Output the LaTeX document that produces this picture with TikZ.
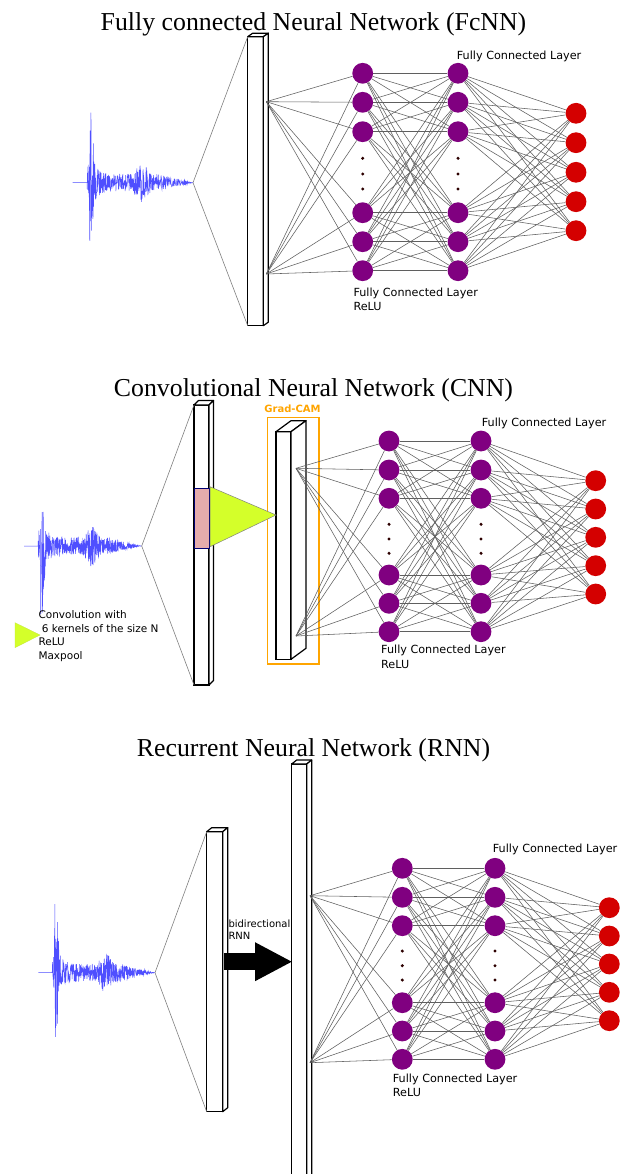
\documentclass[tikz,border=0pt]{standalone}
\usepackage{fontspec}
\setmainfont{DejaVu Sans}
\newfontfamily\titlefont{Liberation Serif}
\usetikzlibrary{arrows.meta}
\definecolor{nnpurple}{RGB}{128,0,128}
\definecolor{nnred}{RGB}{212,0,0}
\definecolor{edgegray}{RGB}{95,95,95}
\definecolor{wavblue}{RGB}{35,35,255}
\definecolor{kernelgreen}{RGB}{212,255,42}
\definecolor{poolpink}{RGB}{229,172,172}
\definecolor{camorange}{RGB}{255,165,0}
\definecolor{dotbrown}{RGB}{45,0,0}

% 3D bar: name, x1, y1, x2, y2, dx, dy
\newcommand\threeDbar[7]{%
  \pgfmathsetmacro\barw{#4-#2}%
  \pgfmathsetmacro\barh{#5-#3}%
  \node[barfront, minimum width=\barw pt, minimum height=\barh pt] (#1) at ({(#2+#4)/2},{(#3+#5)/2}) {};
  \filldraw[barline] (#1.north west) -- ++(#6,#7) -- ([shift={(#6,#7)}]#1.north east) -- (#1.north east) -- cycle;
  \filldraw[barline] (#1.north east) -- ++(#6,#7) -- ([shift={(#6,#7)}]#1.south east) -- (#1.south east) -- cycle;
}

% seismogram: x0, length, yc, seed
\newcommand\seismo[4]{%
  \pgfmathsetseed{#4}%
  \draw[wavestyle] plot[domain=0:1, samples=521] ({#1+\x*#2},{#3+env(\x)*rand});
}

% fully connected part: prefix, x1, x2, x3, hidden ys, dot ys, output ys
\newcommand\fcnet[7]{%
  \foreach \yy [count=\ii] in {#5} {
    \node[hid] (#1h1-\ii) at (#2,\yy) {};
    \node[hid] (#1h2-\ii) at (#3,\yy) {};
  }
  \foreach \yy [count=\ii] in {#6} {
    \node[dotn] (#1d1-\ii) at (#2,\yy) {};
    \node[dotn] (#1d2-\ii) at (#3,\yy) {};
  }
  \foreach \yy [count=\ii] in {#7} {
    \node[outn] (#1o-\ii) at (#4,\yy) {};
  }
  \foreach \ii in {1,...,6} {
    \foreach \jj in {1,...,6} {\draw[edge] (#1h1-\ii) -- (#1h2-\jj);}
    \foreach \jj in {1,...,5} {\draw[edge] (#1h2-\ii) -- (#1o-\jj);}
    \draw[edge] (#1p1) -- (#1h1-\ii);
    \draw[edge] (#1p2) -- (#1h1-\ii);
  }
}

\begin{document}
\begin{tikzpicture}[x=1pt,y=-1pt,
  declare function={env(\x)=(\x>0.12)*(48*exp(-min(((\x-0.15)/0.022)^2,30))
     + 18*exp(-min(max(\x-0.15,0)/0.05,30))*(\x>0.14)
     + 8.5*min(1,(1-\x)/0.3)*(\x>0.14)
     + 12*exp(-min(((\x-0.575)/0.05)^2,30)));},
  title/.style={font=\titlefont\fontsize{25.8}{30}\selectfont, anchor=base, inner sep=0},
  lbl/.style={font=\fontsize{11.2}{14.4}\selectfont, align=left, anchor=base west, inner sep=0},
  hid/.style={circle, fill=nnpurple, minimum size=20.8, inner sep=0},
  outn/.style={circle, fill=nnred, minimum size=20.8, inner sep=0},
  dotn/.style={circle, fill=dotbrown, minimum size=3.4, inner sep=0},
  edge/.style={draw=edgegray, line width=0.55},
  barfront/.style={draw=black, fill=white, line width=1.2, inner sep=0, outer sep=0},
  barline/.style={draw=black, fill=white, line width=1.2, line join=round},
  funnel/.style={draw=gray, line width=0.6},
  wavestyle/.style={draw=wavblue, line width=0.5, opacity=0.8},
  bigarrow/.style={draw=black, line width=16.7, -{Triangle[length=36.7pt,width=39pt,line width=0pt]}},
]
\useasboundingbox[fill=white] (0,0) rectangle (627,1174);

% ---------------- FcNN ----------------
\node[title] (t1) at (313.5,30.7) {Fully connected Neural Network (FcNN)};
\threeDbar{abar}{247.7}{36.7}{263.3}{325.7}{5}{-3.5}
\seismo{72.7}{120.3}{182.7}{11}
\coordinate (aw) at (193,182.7);
\draw[funnel] (abar.north west) -- (aw) -- (abar.south west);
\coordinate (ap1) at (266.3,101.7);
\coordinate (ap2) at (266.3,274);
\fcnet{a}{362.7}{458}{576}{73.3,102.3,131.7,212.7,241.7,270.7}{158.3,174,189}{113.3,142.7,172.3,201.7,230.7}
\node[lbl] (al1) at (456.7,59.3) {Fully Connected Layer};
\node[lbl] (al2) at (353.3,310.7) {Fully Connected Layer\\ReLU};

% ---------------- CNN ----------------
\node[title] (t2) at (313.5,396.7) {Convolutional Neural Network (CNN)};
\threeDbar{bbar}{194}{405}{209}{685}{4.5}{-4.5}
\seismo{24}{117.7}{546}{23}
\coordinate (bw) at (141.7,546);
\draw[funnel] (bbar.north west) -- (bw) -- (bbar.south west);
\filldraw[fill=poolpink, draw=blue!45!black, line width=0.6] (194,488.3) rectangle (209,548.3);
\draw[camorange, line width=1.5] (267.3,417.3) rectangle (319,664);
\node[font=\bfseries\fontsize{10}{12}\selectfont, text=camorange, anchor=base, inner sep=0] (camlbl) at (292.5,412) {Grad-CAM};
\threeDbar{gbar}{276}{431.7}{291}{659.3}{15}{-11}
\coordinate (ktip) at (276,515);
\filldraw[fill=kernelgreen, draw=gray, line width=0.5] (210,486.7) -- (210,546.7) -- (ktip) -- cycle;
\coordinate (bp1) at (296,468.3);
\coordinate (bp2) at (296,636);
\fcnet{b}{389}{481}{595.7}{441,470,498.3,575,603.3,631.7}{524.3,539,553.3}{480.7,509,537.3,565.7,594}
\node[lbl] (bl1) at (481.7,426.3) {Fully Connected Layer};
\node[lbl] (bl2) at (381,668.3) {Fully Connected Layer\\ReLU};
% legend
\filldraw[fill=kernelgreen, draw=kernelgreen!80!gray, line width=0.3] (15,622.7) -- (15,647.7) -- (40,635) -- cycle;
\node[lbl, font=\fontsize{10.5}{13.8}\selectfont] (leg) at (38.3,659.7) {Convolution with\\\ 6 kernels of the size N\\ReLU\\Maxpool};

% ---------------- RNN ----------------
\node[title] (t3) at (313.5,756.7) {Recurrent Neural Network (RNN)};
\threeDbar{cbar1}{206.7}{831.7}{222.7}{1111.7}{5}{-4}
\threeDbar{cbar2}{291.7}{764}{306.7}{1190}{5}{-4}
\seismo{38.3}{116.7}{972.7}{37}
\coordinate (cw) at (155,972.7);
\draw[funnel] (cbar1.north west) -- (cw) -- (cbar1.south west);
\coordinate (arrS) at (224.3,961.7);
\draw[bigarrow] (arrS) -- (cbar2.west |- arrS);
\node[lbl, font=\fontsize{10}{11.7}\selectfont] (birnn) at (228.3,939.5) {bidirectional\\RNN};
\coordinate (cp1) at (310,895.7);
\coordinate (cp2) at (310,1062.7);
\fcnet{c}{402.3}{495}{609.3}{868.3,897.3,925.7,1002.7,1031,1059.3}{951,965.7,980}{907.7,936,964,992.3,1020.7}
\node[lbl] (cl1) at (492.7,852.3) {Fully Connected Layer};
\node[lbl] (cl2) at (392.7,1096.7) {Fully Connected Layer\\ReLU};
\end{tikzpicture}
\end{document}
